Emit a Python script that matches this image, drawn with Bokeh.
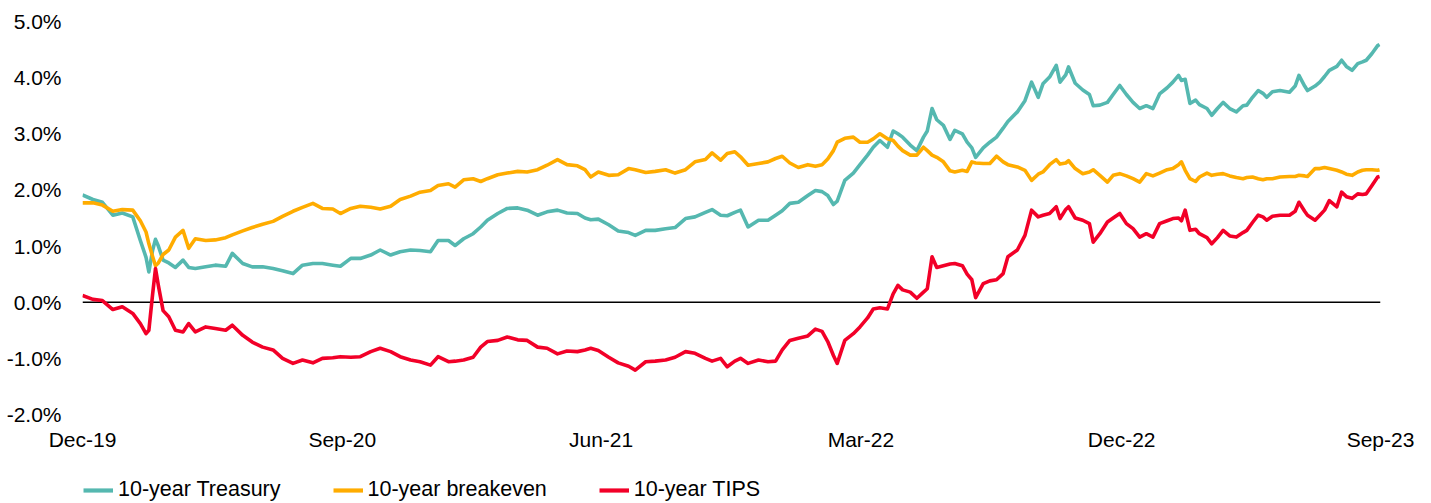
import pandas as pd
from bokeh.plotting import figure
from bokeh.layouts import column
from bokeh.models import Span, Legend, LegendItem, FixedTicker, PrintfTickFormatter, Range1d
from bokeh.embed import file_html
from bokeh.resources import INLINE

start_date = "2019-12-31"
end_date = "2023-09-30"

# days after start_date for each observation
day_offsets = [
    0, 11, 21, 32, 42, 53, 61, 67, 70, 74,
    77, 80, 85, 91, 98, 106, 112, 119, 130, 140,
    151, 158, 169, 179, 190, 201, 211, 222, 232, 243,
    253, 264, 272, 283, 293, 304, 314, 325, 335, 346,
    356, 367, 375, 386, 393, 402, 412, 420, 427, 438,
    448, 459, 469, 480, 490, 501, 511, 522, 530, 536,
    544, 555, 565, 576, 583, 594, 604, 615, 625, 636,
    646, 657, 664, 673, 680, 688, 694, 702, 713, 723,
    731, 738, 746, 755, 765, 773, 780, 786, 792, 796,
    804, 813, 820, 828, 834, 841, 849, 855, 860, 865,
    873, 880, 887, 891, 896, 901, 908, 915, 920, 928,
    933, 938, 942, 950, 957, 964, 971, 976, 986, 994,
    1001, 1008, 1013, 1020, 1027, 1031, 1037, 1040, 1047, 1055,
    1062, 1066, 1073, 1081, 1087, 1094, 1101, 1108, 1115, 1122,
    1129, 1136, 1144, 1150, 1156, 1159, 1163, 1168, 1174, 1178,
    1186, 1191, 1197, 1203, 1210, 1217, 1224, 1228, 1234, 1240,
    1245, 1249, 1255, 1263, 1273, 1279, 1283, 1289, 1292, 1300,
    1305, 1310, 1315, 1323, 1328, 1333, 1339, 1345, 1350, 1354,
    1360, 1366, 1368,
]

treasury_10y = [
    1.91, 1.83, 1.78, 1.55, 1.59, 1.52, 1.10, 0.80, 0.54, 0.93,
    1.12, 1.00, 0.75, 0.70, 0.62, 0.75, 0.62, 0.60, 0.63, 0.66,
    0.64, 0.87, 0.69, 0.63, 0.63, 0.60, 0.56, 0.51, 0.66, 0.69,
    0.69, 0.66, 0.64, 0.78, 0.78, 0.84, 0.93, 0.84, 0.90, 0.93,
    0.92, 0.90, 1.10, 1.10, 1.01, 1.13, 1.22, 1.34, 1.46, 1.58,
    1.67, 1.68, 1.64, 1.55, 1.61, 1.64, 1.59, 1.58, 1.50, 1.47,
    1.48, 1.38, 1.27, 1.24, 1.19, 1.28, 1.28, 1.31, 1.33, 1.49,
    1.52, 1.60, 1.65, 1.55, 1.54, 1.60, 1.64, 1.34, 1.46, 1.46,
    1.55, 1.63, 1.76, 1.78, 1.90, 1.99, 1.97, 1.90, 1.74, 1.80,
    2.17, 2.30, 2.45, 2.62, 2.76, 2.88, 2.76, 3.05, 3.00, 2.94,
    2.80, 2.70, 2.94, 3.05, 3.45, 3.25, 3.15, 2.90, 3.06, 3.00,
    2.85, 2.75, 2.58, 2.75, 2.85, 2.94, 3.10, 3.22, 3.39, 3.59,
    3.92, 3.65, 3.89, 4.01, 4.22, 3.92, 4.05, 4.19, 3.90, 3.78,
    3.70, 3.50, 3.51, 3.56, 3.70, 3.86, 3.70, 3.56, 3.45, 3.50,
    3.45, 3.71, 3.82, 3.92, 4.04, 3.95, 3.97, 3.54, 3.60, 3.52,
    3.45, 3.33, 3.45, 3.56, 3.45, 3.39, 3.50, 3.51, 3.65, 3.77,
    3.72, 3.65, 3.75, 3.77, 3.74, 3.85, 4.04, 3.85, 3.77, 3.85,
    3.92, 4.02, 4.13, 4.20, 4.31, 4.20, 4.13, 4.25, 4.28, 4.31,
    4.43, 4.57, 4.59,
]

breakeven_10y = [
    1.77, 1.77, 1.73, 1.62, 1.65, 1.64, 1.45, 1.25, 1.04, 0.81,
    0.65, 0.70, 0.85, 0.93, 1.16, 1.28, 0.96, 1.13, 1.10, 1.11,
    1.15, 1.20, 1.27, 1.33, 1.39, 1.44, 1.53, 1.62, 1.69, 1.76,
    1.67, 1.66, 1.58, 1.67, 1.71, 1.69, 1.66, 1.71, 1.83, 1.89,
    1.96, 1.99, 2.08, 2.11, 2.05, 2.18, 2.20, 2.15, 2.20, 2.27,
    2.30, 2.33, 2.32, 2.36, 2.44, 2.54, 2.45, 2.43, 2.36, 2.23,
    2.32, 2.26, 2.27, 2.38, 2.36, 2.31, 2.33, 2.36, 2.30, 2.36,
    2.50, 2.54, 2.66, 2.53, 2.65, 2.68, 2.59, 2.44, 2.47, 2.50,
    2.56, 2.60, 2.48, 2.40, 2.45, 2.42, 2.45, 2.55, 2.70, 2.85,
    2.92, 2.94, 2.85, 2.85, 2.91, 3.00, 2.91, 2.88, 2.78, 2.70,
    2.62, 2.62, 2.76, 2.70, 2.62, 2.58, 2.50, 2.34, 2.32, 2.35,
    2.33, 2.50, 2.48, 2.47, 2.47, 2.60, 2.50, 2.45, 2.41, 2.35,
    2.17, 2.28, 2.32, 2.45, 2.54, 2.46, 2.48, 2.52, 2.38, 2.29,
    2.32, 2.36, 2.26, 2.14, 2.26, 2.29, 2.25, 2.20, 2.14, 2.29,
    2.25, 2.30, 2.36, 2.38, 2.45, 2.50, 2.35, 2.20, 2.15, 2.23,
    2.30, 2.26, 2.28, 2.29, 2.25, 2.22, 2.20, 2.22, 2.23, 2.20,
    2.18, 2.20, 2.20, 2.23, 2.24, 2.24, 2.26, 2.25, 2.24, 2.38,
    2.38, 2.40, 2.38, 2.35, 2.32, 2.28, 2.26, 2.32, 2.35, 2.36,
    2.36, 2.35, 2.36,
]

tips_10y = [
    0.12, 0.05, 0.03, -0.13, -0.08, -0.20, -0.38, -0.56, -0.50, 0.15,
    0.60, 0.30, -0.15, -0.26, -0.50, -0.53, -0.38, -0.53, -0.44, -0.47,
    -0.50, -0.41, -0.59, -0.71, -0.80, -0.85, -1.00, -1.09, -1.03, -1.08,
    -1.00, -0.99, -0.97, -0.98, -0.97, -0.88, -0.82, -0.88, -0.97, -1.03,
    -1.06, -1.12, -0.97, -1.06, -1.05, -1.03, -0.98, -0.80, -0.70, -0.68,
    -0.62, -0.67, -0.68, -0.80, -0.82, -0.92, -0.87, -0.88, -0.85, -0.82,
    -0.86, -0.98, -1.08, -1.14, -1.21, -1.06, -1.05, -1.03, -0.98, -0.88,
    -0.91, -1.00, -1.05, -1.00, -1.15, -1.05, -1.00, -1.09, -1.03, -1.06,
    -1.05, -0.85, -0.68, -0.64, -0.60, -0.48, -0.52, -0.70, -0.95, -1.09,
    -0.68, -0.56, -0.44, -0.28, -0.12, -0.10, -0.12, 0.15, 0.30, 0.22,
    0.18, 0.07, 0.18, 0.24, 0.81, 0.62, 0.65, 0.68, 0.69, 0.65,
    0.50, 0.40, 0.08, 0.33, 0.38, 0.40, 0.51, 0.81, 0.93, 1.19,
    1.64, 1.52, 1.55, 1.58, 1.70, 1.49, 1.65, 1.70, 1.50, 1.46,
    1.40, 1.07, 1.22, 1.43, 1.50, 1.58, 1.40, 1.31, 1.16, 1.22,
    1.16, 1.40, 1.45, 1.49, 1.50, 1.45, 1.64, 1.28, 1.30, 1.22,
    1.15, 1.04, 1.15, 1.28, 1.18, 1.16, 1.24, 1.28, 1.42, 1.55,
    1.52, 1.46, 1.53, 1.55, 1.55, 1.62, 1.78, 1.62, 1.55, 1.46,
    1.55, 1.64, 1.81, 1.70, 1.96, 1.88, 1.85, 1.93, 1.92, 1.93,
    2.08, 2.23, 2.24,
]

series_names = ["10-year Treasury", "10-year breakeven", "10-year TIPS"]
series_colors = ["#55B8B0", "#FFAC00", "#F20028"]

x_tick_dates = ["2019-12-31", "2020-09-30", "2021-06-30", "2022-03-31", "2022-12-31", "2023-09-30"]
x_tick_labels = ["Dec-19", "Sep-20", "Jun-21", "Mar-22", "Dec-22", "Sep-23"]
y_ticks = [-2, -1, 0, 1, 2, 3, 4, 5]

assert len(day_offsets) == len(treasury_10y) == len(breakeven_10y) == len(tips_10y)

dates = pd.Timestamp(start_date) + pd.to_timedelta(day_offsets, unit="D")
all_series = [treasury_10y, breakeven_10y, tips_10y]

FONT = "Liberation Sans"
LINE_W = 3.6

p = figure(
    width=1431, height=476,
    x_axis_type="datetime",
    x_range=Range1d(pd.Timestamp(start_date), pd.Timestamp(end_date)),
    y_range=Range1d(-2, 5),
    output_backend="svg", toolbar_location=None,
    min_border_left=82, min_border_right=51, min_border_top=21, min_border_bottom=62,
    background_fill_color="white", border_fill_color="white",
)
p.outline_line_color = None
p.xgrid.visible = False
p.ygrid.visible = False

zero = Span(location=0, dimension="width", line_color="black", line_width=1.6, level="underlay")
p.add_layout(zero)

for vals, col in zip(all_series, series_colors):
    p.line(dates, vals, line_color=col, line_width=LINE_W, line_join="round")

tick_ms = [int(pd.Timestamp(d).value // 10**6) for d in x_tick_dates]
p.xaxis.ticker = FixedTicker(ticks=tick_ms)
p.xaxis.major_label_overrides = {t: lab for t, lab in zip(tick_ms, x_tick_labels)}
p.yaxis.ticker = FixedTicker(ticks=y_ticks)
p.yaxis.formatter = PrintfTickFormatter(format="%.1f%%")

for ax in (p.xaxis[0], p.yaxis[0]):
    ax.axis_line_color = None
    ax.major_tick_line_color = None
    ax.minor_tick_line_color = None
    ax.major_tick_in = 0
    ax.major_tick_out = 0
    ax.minor_tick_in = 0
    ax.minor_tick_out = 0
    ax.major_label_text_font = FONT
    ax.major_label_text_font_size = "21px"
    ax.major_label_text_color = "#000000"
p.xaxis.major_label_standoff = 13
p.yaxis.major_label_standoff = 21

# legend strip below the chart (its own ranges keep the key lines' data out of view)
lf = figure(
    width=1431, height=27,
    x_range=Range1d(0, 1), y_range=Range1d(0, 1),
    output_backend="svg", toolbar_location=None,
    x_axis_location=None, y_axis_location=None,
    min_border=0, min_border_left=0, min_border_right=0, min_border_top=0, min_border_bottom=0,
    background_fill_color="white", border_fill_color="white",
)
lf.outline_line_color = None
lf.xgrid.visible = False
lf.ygrid.visible = False
legend_renderers = [
    lf.line(dates, vals, line_color=col, line_width=LINE_W + 0.6)
    for vals, col in zip(all_series, series_colors)
]
legend = Legend(
    items=[LegendItem(label=n, renderers=[r]) for n, r in zip(series_names, legend_renderers)],
    orientation="horizontal",
    location=(1, 1),
    glyph_width=30, glyph_height=20, label_height=20,
    label_standoff=5, spacing=52, padding=0, margin=0,
    label_text_font=FONT, label_text_font_size="21.5px", label_text_color="#000000",
    border_line_color=None, background_fill_alpha=0,
)
lf.add_layout(legend, "center")

layout = column(p, lf, spacing=0)
open("out.html", "w").write(file_html(layout, INLINE))
